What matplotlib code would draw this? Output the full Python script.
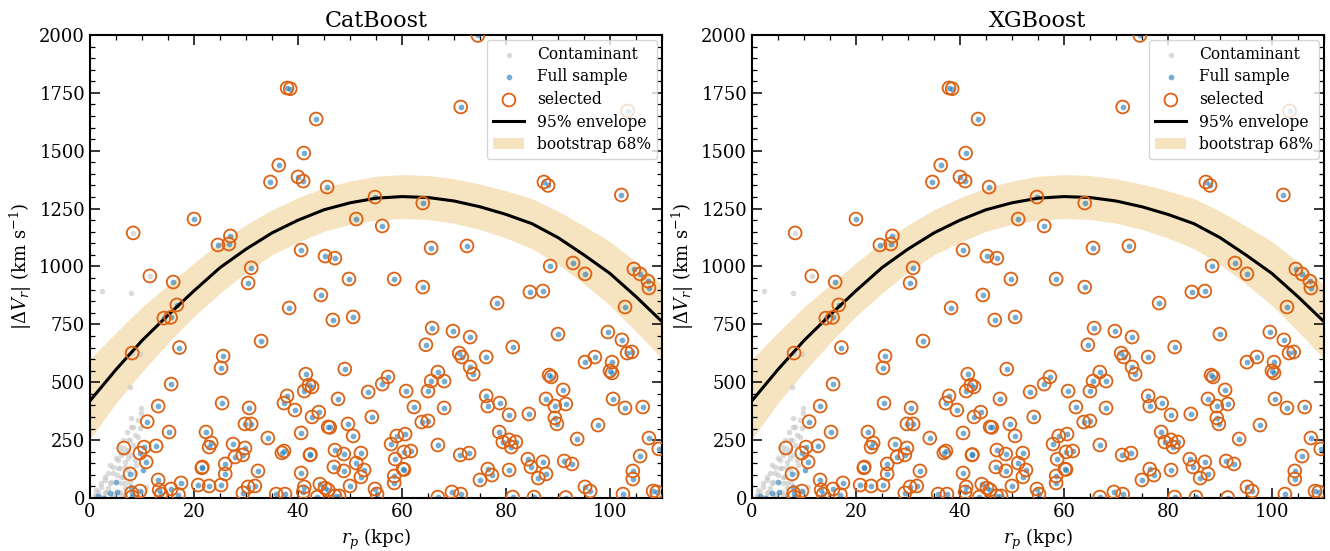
import numpy as np
import matplotlib
matplotlib.use("Agg")
import matplotlib.pyplot as plt
from matplotlib.ticker import MultipleLocator

plt.rcParams['font.family'] = ['DejaVu Serif']
plt.rcParams['mathtext.fontset'] = 'dejavuserif'

# selected members of the full sample (blue dot + orange ring)
sel_x = [74.6, 37.9, 38.5, 43.5, 71.3, 103.4, 36.3, 41.1, 40.0, 41.0, 34.7, 45.6, 102.2,
         54.8, 64.0, 51.2, 20.0, 56.2, 24.6, 27.0, 26.7, 31.0, 30.4, 16.0, 16.7, 14.2, 15.5,
         32.9, 17.2, 40.6, 45.2, 47.1, 65.6, 72.5, 49.8, 58.5, 64.0, 44.4, 38.3, 46.7, 50.6,
         65.8, 69.8, 73.1, 64.6, 87.3, 88.1, 88.5, 92.9, 95.2, 104.6, 105.8, 107.3, 107.5,
         102.9, 84.6, 87.1, 78.3, 90.0, 99.6, 102.3, 81.3,
         25.6, 25.2, 15.6, 25.4, 13.1, 30.6, 11.0, 15.2, 29.8, 31.0, 34.2, 22.3, 23.3, 22.9,
         27.5, 29.8, 29.4, 27.9, 12.7, 10.4, 9.6, 10.8, 21.5, 21.6, 26.0, 26.0, 32.3, 7.7,
         37.3, 36.9, 37.9, 37.3, 13.1, 13.3, 13.7, 17.5, 20.8, 22.9, 25.2, 15.6, 17.0, 9.6,
         8.0, 8.1, 29.4, 30.4, 31.7, 35.8,
         71.0, 71.5, 73.1, 73.7, 49.0, 41.5, 57.3, 56.2, 66.9, 65.6, 68.1, 42.1, 41.2, 42.7,
         53.5, 60.8, 65.0, 47.7, 39.4, 44.0, 42.7, 62.3, 68.1, 54.2, 63.8, 65.0, 49.6, 45.8,
         46.1, 40.6, 50.6, 59.0, 60.6, 57.9, 66.9, 42.3, 42.4, 47.1, 48.8, 52.1, 60.4, 61.7,
         71.2, 72.9, 58.7, 46.9, 48.8, 51.2, 52.7, 52.1, 60.2, 60.4, 40.6, 58.5, 58.5, 50.0,
         37.5, 41.2, 41.0, 44.2, 45.2, 45.8, 43.7, 47.1, 47.9, 54.8, 55.2, 66.9, 69.6, 71.3,
         76.2, 103.3, 104.2, 95.2, 97.1, 100.4, 100.0, 100.4, 88.3, 88.7, 91.0, 76.2, 76.5,
         78.8, 87.7, 89.4, 91.5, 100.6, 102.9, 106.3, 80.6, 84.4, 89.4, 89.8, 97.7, 78.7,
         79.4, 80.6, 81.9, 81.0, 93.7, 107.5, 109.4, 105.8, 84.2, 84.8, 87.1, 87.7, 86.2,
         91.2, 92.7, 104.4, 104.4, 76.5, 77.3, 75.0, 80.6, 95.2, 96.2, 102.5, 81.3, 85.4,
         91.5, 108.3, 109.0]
sel_y = [1998, 1771, 1768, 1637, 1689, 1672, 1438, 1490, 1387, 1369, 1365, 1343, 1309,
         1300, 1274, 1205, 1205, 1175, 1093, 1132, 1097, 994, 929, 933, 834, 777, 780,
         678, 650, 1071, 1045, 1036, 1080, 1089, 946, 946, 911, 877, 821, 769, 782,
         734, 721, 695, 662, 1365, 1350, 1002, 1015, 968, 989, 968, 937, 907,
         825, 890, 894, 842, 708, 717, 683, 652,
         613, 562, 492, 410, 397, 389, 330, 285, 320, 320, 259, 285, 238, 220,
         233, 216, 186, 177, 225, 220, 194, 156, 130, 134, 147, 104, 117, 104,
         203, 195, 441, 410, 78, 35, 17, 65, 56, 52, 56, 39, 15, 30,
         22, 5, 22, 48, 52, 17,
         626, 609, 566, 535, 557, 535, 523, 492, 544, 505, 505, 488, 462, 480,
         458, 462, 462, 428, 380, 371, 350, 393, 389, 350, 328, 333, 320, 307,
         305, 281, 268, 268, 276, 233, 229, 186, 188, 207, 190, 194, 199, 203,
         186, 194, 168, 134, 117, 151, 121, 91, 125, 123, 108, 95, 65, 52,
         17, 48, 26, 60, 43, 35, 4, 9, 9, 39, 17, 4, 26, 17,
         609, 626, 631, 587, 609, 587, 549, 540, 531, 523, 467, 441, 397,
         410, 428, 397, 406, 428, 389, 393, 359, 363, 346, 320, 315, 285,
         242, 251, 242, 220, 255, 259, 212, 181, 168, 134, 156, 104, 86,
         160, 147, 117, 82, 125, 99, 78, 121, 48, 30, 17, 4, 4,
         2, 30, 26]

# full-sample members that were not selected
unsel_x = [5.0, 3.8, 5.2, 2.7, 7.9, 10.2, 1.5]
unsel_y = [69, 22, 26, 2, 48, 121, 10]

# contaminants
cont_x = [2.3, 7.9, 9.6, 7.7, 9.8, 9.8, 7.9, 9.2, 8.3, 9.6, 6.3, 7.7, 5.8, 7.3, 6.0,
          5.0, 7.3, 3.8, 5.4, 6.7, 4.4, 2.9, 6.0, 2.1, 3.8, 6.7, 1.2, 3.1, 5.8, 1.0,
          2.1, 4.4, 6.7, 8.8, 9.2, 7.1, 8.1, 11.5, 8.3, 6.5,
          7.9, 8.6, 7.3, 8.3, 6.0, 7.0, 7.9, 5.4, 6.7, 8.6, 4.4, 5.7, 7.3, 3.5, 5.1,
          6.3, 8.6, 2.8, 4.1, 6.0, 7.6, 2.2, 3.5, 6.7, 1.5, 2.8, 4.7, 6.0, 0.9, 2.5,
          4.1, 6.7, 9.2, 9.9, 10.8]
cont_y = [894, 885, 622, 479, 389, 367, 346, 337, 307, 302, 251, 251, 220, 207, 186,
          173, 173, 143, 130, 134, 108, 91, 91, 65, 65, 65, 35, 26, 26, 13,
          4, 4, 13, 143, 264, 285, 626, 959, 1145, 216,
          308, 272, 251, 229, 200, 193, 186, 164, 157, 164, 135, 128, 121, 107, 99,
          92, 107, 78, 70, 63, 70, 49, 42, 42, 27, 20, 17, 13, 6, 1,
          1, 3, 6, 27, 49]
# contaminants that were also selected
csel_x = [8.1, 11.5, 8.3, 6.5]
csel_y = [626, 959, 1145, 216]

# 95% envelope and bootstrap band
env_x = [0, 5, 10, 15, 20, 25, 30, 35, 40, 45, 50, 55, 60, 65, 70, 75, 80, 85, 90, 95, 100, 105, 110]
env_y = [420, 555, 680, 790, 895, 995, 1075, 1145, 1200, 1245, 1275, 1295, 1302, 1298, 1283,
         1258, 1225, 1185, 1125, 1050, 970, 870, 762]
band_lo = [255, 410, 545, 670, 785, 885, 975, 1050, 1105, 1152, 1182, 1201, 1207, 1203,
           1187, 1160, 1123, 1077, 1010, 925, 832, 720, 602]
band_hi = [600, 715, 825, 920, 1015, 1105, 1180, 1245, 1297, 1340, 1369, 1390, 1397, 1393,
           1379, 1356, 1327, 1293, 1240, 1175, 1108, 1020, 922]

titles = ['CatBoost', 'XGBoost']

fig = plt.figure(figsize=(13.3, 5.51), dpi=100)
axes = [fig.add_axes([0.0677, 0.0962, 0.430, 0.8403]),
        fig.add_axes([0.5654, 0.0962, 0.430, 0.8403])]

orange = '#db6214'
for ax, title in zip(axes, titles):
    ax.fill_between(env_x, band_lo, band_hi, color='#f5dfb5', alpha=0.85, lw=0,
                    label='bootstrap 68%', zorder=1)
    ax.plot(env_x, env_y, color='k', lw=2.2, label='95% envelope', zorder=3)
    ax.scatter(cont_x, cont_y, s=16, color='#c4c4c4', alpha=0.6, lw=0,
               label='Contaminant', zorder=2)
    ax.scatter(sel_x + unsel_x, sel_y + unsel_y, s=17, color='#1f77b4', alpha=0.6, lw=0,
               label='Full sample', zorder=2)
    ax.scatter(sel_x + csel_x, sel_y + csel_y, s=85, facecolors='none', edgecolors=orange,
               lw=1.3, label='selected', zorder=4)

    ax.set_xlim(0, 110)
    ax.set_ylim(0, 2000)
    ax.set_title(title, fontsize=16)
    ax.set_xlabel(r'$r_p$ (kpc)', fontsize=13)
    ax.set_ylabel(r'$|\Delta V_r|$ (km s$^{-1}$)', fontsize=13)
    ax.xaxis.set_major_locator(MultipleLocator(20))
    ax.xaxis.set_minor_locator(MultipleLocator(5))
    ax.yaxis.set_major_locator(MultipleLocator(250))
    ax.yaxis.set_minor_locator(MultipleLocator(50))
    ax.tick_params(which='both', direction='in', top=True, right=True, labelsize=13)
    ax.tick_params(which='major', length=7, width=1.1)
    ax.tick_params(which='minor', length=3.5, width=0.9)
    for sp in ax.spines.values():
        sp.set_linewidth(1.5)

    h, l = ax.get_legend_handles_labels()
    order = [l.index(k) for k in ['Contaminant', 'Full sample', 'selected',
                                   '95% envelope', 'bootstrap 68%']]
    ax.legend([h[i] for i in order], [l[i] for i in order], loc='upper right',
              fontsize=11.2, framealpha=0.8, borderaxespad=0.3, handlelength=2.0,
              labelspacing=0.36)

fig.savefig('out.png', dpi=100)
